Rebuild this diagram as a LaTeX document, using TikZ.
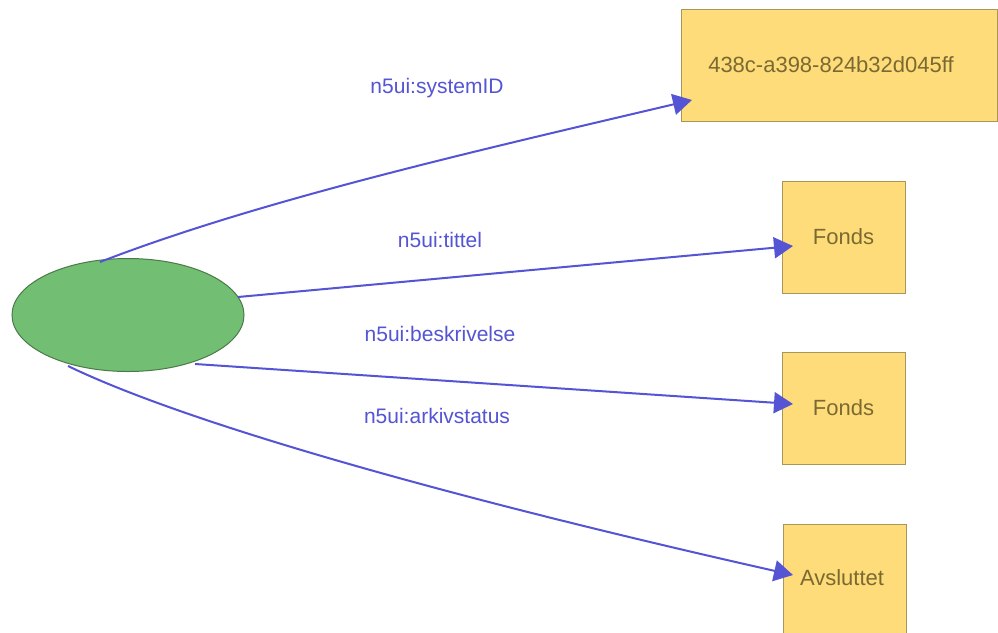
\documentclass[tikz,border=0pt]{standalone}
\usepackage{fontspec}
\setmainfont{Liberation Sans}
\usetikzlibrary{shapes.geometric,arrows.meta}
\definecolor{edgeblue}{HTML}{5454D4}
\definecolor{boxfill}{HTML}{FFDC7A}
\definecolor{boxline}{HTML}{A8965A}
\definecolor{boxtext}{HTML}{7A6A32}
\definecolor{ellfill}{HTML}{72BE72}
\definecolor{ellline}{HTML}{4A7A4A}
\tikzset{
  valbox/.style={draw=boxline, fill=boxfill, line width=1pt, text=boxtext, font=\fontsize{22}{26}\selectfont, inner sep=0pt},
  valtext/.style={text=boxtext, font=\fontsize{22}{26}\selectfont, inner sep=0pt},
  rel/.style={draw=edgeblue, line width=2pt, -{Triangle[length=19pt,width=21pt]}},
  rellabel/.style={text=edgeblue, font=\fontsize{21}{25}\selectfont, inner sep=0pt},
}
\begin{document}
\begin{tikzpicture}[x=1pt,y=-1pt]
\useasboundingbox[fill=white] (0,0) rectangle (998,632);
\node[ellipse, draw=ellline, fill=ellfill, line width=1pt, minimum width=232pt, minimum height=113pt, inner sep=0pt] (subj) at (128,315) {};
\node[valbox, minimum width=316pt, minimum height=112pt] (sysid) at (839,65) {};
\node[valtext] (sysidtext) at (831,65) {438c-a398-824b32d045ff};
\node[valbox, minimum width=123pt, minimum height=112pt] (fonds1) at (843.5,237) {Fonds};
\node[valbox, minimum width=123pt, minimum height=112pt] (fonds2) at (843.5,408) {Fonds};
\node[valbox, minimum width=123pt, minimum height=130pt, anchor=north] (status) at (844.5,524) {};
\node[valtext] (statustext) at (842,578) {Avsluttet};
\coordinate (t1) at (692,100);
\coordinate (t2) at (793,246);
\coordinate (t3) at (793,404);
\coordinate (t4) at (793,575);
\coordinate (s1) at (100,262);
\coordinate (s2) at (238,297);
\coordinate (s3) at (195,364);
\coordinate (s4) at (68,366);
\draw[rel] (s1) .. controls (260,200) and (480,150) .. (t1);
\draw[rel] (s2) -- (t2);
\draw[rel] (s3) -- (t3);
\draw[rel] (s4) .. controls (190,425) and (460,500) .. (t4);
\node[rellabel] (l1) at (437,88) {n5ui:systemID};
\node[rellabel] (l2) at (440,240) {n5ui:tittel};
\node[rellabel] (l3) at (440,334) {n5ui:beskrivelse};
\node[rellabel] (l4) at (437,416) {n5ui:arkivstatus};
\end{tikzpicture}
\end{document}
